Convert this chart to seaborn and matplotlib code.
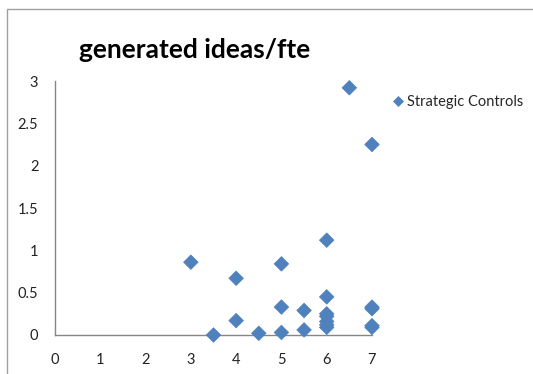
import matplotlib
matplotlib.use("Agg")
import matplotlib.pyplot as plt
import seaborn as sns
import pandas as pd
from matplotlib.patches import Rectangle

x_vals = [3, 3.5, 4, 4, 4.5, 5, 5, 5, 5.5, 5.5, 6, 6, 6, 6, 6, 6, 6, 6.5, 7, 7, 7, 7, 7]
y_vals = [0.86, 0.0, 0.67, 0.17, 0.02, 0.84, 0.33, 0.03, 0.29, 0.06,
          1.12, 0.45, 0.25, 0.22, 0.16, 0.12, 0.09, 2.92, 2.25, 0.33, 0.31, 0.11, 0.09]
series_name = "Strategic Controls"
title_text = "generated ideas/fte"
x_ticks = [0, 1, 2, 3, 4, 5, 6, 7]
y_ticks = [0, 0.5, 1, 1.5, 2, 2.5, 3]
y_ticklabels = ["0", "0.5", "1", "1.5", "2", "2.5", "3"]

df = pd.DataFrame({"x": x_vals, "y": y_vals, "series": series_name})

sns.set_style("white")
plt.rcParams["font.family"] = ["Lato", "DejaVu Sans"]

fig = plt.figure(figsize=(5.33, 3.74), dpi=100)
ax = fig.add_axes([55/533, 1 - 335/374, (372 - 55)/533, (335 - 81)/374])

blue = "#4F81BD"
sns.scatterplot(data=df, x="x", y="y", hue="series", palette=[blue], marker="D",
                s=55, edgecolor=blue, linewidth=0.5, ax=ax, clip_on=False, zorder=3)

ax.set_xlim(0, 7)
ax.set_ylim(0, 3)
ax.set_xticks(x_ticks)
ax.set_xticklabels([str(t) for t in x_ticks])
ax.set_yticks(y_ticks)
ax.set_yticklabels(y_ticklabels)
ax.set_xlabel("")
ax.set_ylabel("")
grey = "#868686"
for side in ["top", "right"]:
    ax.spines[side].set_visible(False)
for side in ["left", "bottom"]:
    ax.spines[side].set_color(grey)
    ax.spines[side].set_linewidth(1.0)
ax.tick_params(axis="both", which="major", direction="out", length=5, width=1,
               color=grey, labelsize=10.5, labelcolor="#222222", pad=7)
ax.tick_params(axis="x", pad=8)

leg = ax.legend(loc="upper left", bbox_to_anchor=(391/533, 1 - 95/374),
                bbox_transform=fig.transFigure, frameon=False, fontsize=10.5,
                handletextpad=0.1, markerscale=0.65, borderpad=0, borderaxespad=0,
                handlelength=1.0)

fig.text(79/533, 1 - 58/374, title_text, fontsize=19, fontweight="bold",
         color="black", ha="left", va="baseline")

fig.patches.append(Rectangle((7/533, -0.1), 1.2, 1 - 9/374 + 0.1,
                             transform=fig.transFigure, fill=False,
                             edgecolor="#A0A0A0", linewidth=1.0))

fig.savefig("out.png", dpi=100)
